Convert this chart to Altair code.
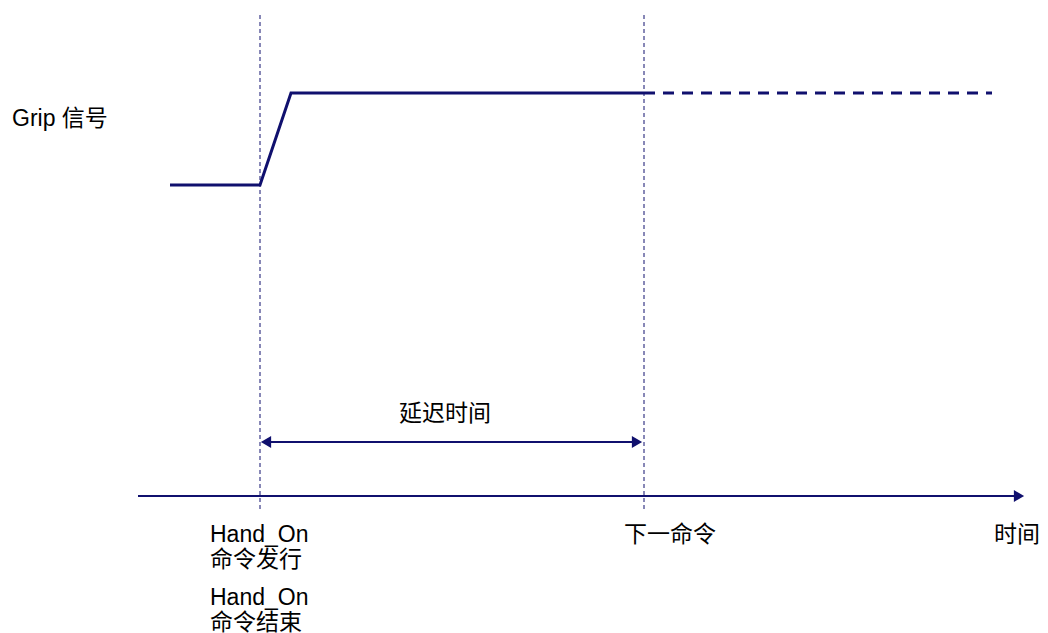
import altair as alt
import pandas as pd

NAVY = "#10106e"
FONT = "Liberation Sans, Arial, Noto Sans CJK SC"

# Signal trace (time, level in chart units; level measured downward)
sig_t = [162, 252, 283, 636]
sig_y = [177, 177, 85, 85]
dash_t = [636, 984]
dash_y = [85, 85]

# event markers (Hand_On issued, next command)
event_t = [252, 636]
event_top = 7
event_bottom = 504

# time axis
axis_t0, axis_t1, axis_y = 130, 1017, 488

# delay arrow
delay_t0, delay_t1, delay_y = 252, 635, 434

# labels
left_labels = ["Hand_On", "命令发行", "Hand_On", "命令结束"]
left_label_y = [534, 559, 597, 622]
left_label_x = 202

center_labels = ["下一命令", "时间", "延迟时间"]
center_label_x = [662, 1009, 437]
center_label_y = [534, 534, 413]

W, H = 1032, 617
xs = alt.Scale(domain=[0, W], nice=False, zero=False)
ys = alt.Scale(domain=[0, H], nice=False, zero=False, reverse=True)

def X(f="t"):
    return alt.X(f, type="quantitative", scale=xs, axis=None)

def Y(f="y"):
    return alt.Y(f, type="quantitative", scale=ys, axis=None)

sig = alt.Chart(pd.DataFrame({"t": sig_t, "y": sig_y, "o": range(len(sig_t))})).mark_line(
    color=NAVY, strokeWidth=3, strokeJoin="miter"
).encode(x=X(), y=Y(), order="o:Q")

dash = alt.Chart(pd.DataFrame({"t": dash_t, "y": dash_y})).mark_line(
    color=NAVY, strokeWidth=3, strokeDash=[11, 8]
).encode(x=X(), y=Y())

vlines = alt.Chart(pd.DataFrame({"t": event_t, "y": [event_top] * 2, "y2": [event_bottom] * 2})).mark_rule(
    color=NAVY, strokeWidth=1, strokeDash=[4, 3]
).encode(x=X(), y=Y(), y2="y2:Q")

axis_line = alt.Chart(pd.DataFrame({"t": [axis_t0], "t2": [axis_t1 - 7], "y": [axis_y]})).mark_rule(
    color=NAVY, strokeWidth=2
).encode(x=X(), x2="t2:Q", y=Y())

delay_line = alt.Chart(pd.DataFrame({"t": [delay_t0 + 6], "t2": [delay_t1 - 6], "y": [delay_y]})).mark_rule(
    color=NAVY, strokeWidth=2
).encode(x=X(), x2="t2:Q", y=Y())

heads_r = alt.Chart(pd.DataFrame({"t": [axis_t1 - 6, delay_t1 - 6], "y": [axis_y, delay_y]})).mark_point(
    shape="triangle-right", filled=True, color=NAVY, opacity=1, size=140, strokeWidth=0
).encode(x=X(), y=Y())

heads_l = alt.Chart(pd.DataFrame({"t": [delay_t0 + 6], "y": [delay_y]})).mark_point(
    shape="triangle-left", filled=True, color=NAVY, opacity=1, size=140, strokeWidth=0
).encode(x=X(), y=Y())

def txt(df, align):
    return alt.Chart(df).mark_text(
        align=align, baseline="alphabetic", font=FONT, fontSize=23, color="#000000"
    ).encode(x=X(), y=Y(), text="s:N")

t_left = txt(pd.DataFrame({"t": [left_label_x] * 4, "y": left_label_y, "s": left_labels}), "left")
t_grip = txt(pd.DataFrame({"t": [4], "y": [118], "s": ["Grip 信号"]}), "left")
t_center = txt(pd.DataFrame({"t": center_label_x, "y": center_label_y, "s": center_labels}), "center")

chart = alt.layer(
    vlines, sig, dash, axis_line, delay_line, heads_r, heads_l, t_left, t_grip, t_center
).properties(
    width=W, height=H, padding=0,
).configure_view(stroke=None)

chart.save("out.html", embed_options={"renderer": "svg", "actions": False})
